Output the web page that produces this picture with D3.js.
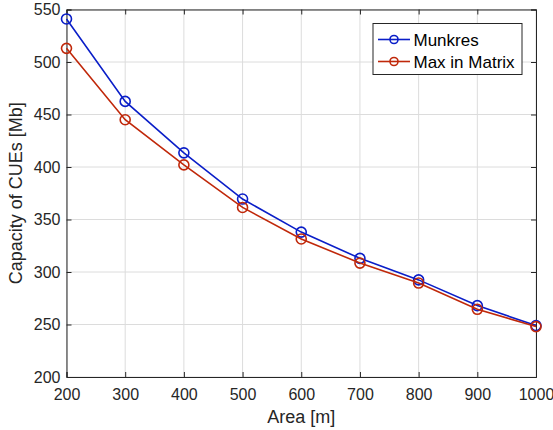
<!DOCTYPE html>
<html><head><meta charset="utf-8">
<script src="https://cdn.jsdelivr.net/npm/d3@7/dist/d3.min.js"></script>
<style>body{margin:0;background:#fff}svg{display:block}text{font-family:"Liberation Sans",Arial,sans-serif;fill:#262626}</style>
</head><body>
<script>
const areas = [200,300,400,500,600,700,800,900,1000];
const munkres = [541,462.5,413.5,369.5,338,313,292.5,268,249];
const maxInMatrix = [513,445,402,361.5,331.5,308.5,289.5,264.5,248];
const xTicks = [200,300,400,500,600,700,800,900,1000];
const yTicks = [200,250,300,350,400,450,500,550];
const seriesNames = ["Munkres","Max in Matrix"];
const colors = ["#0a1ec8","#c0280a"];

const W=553,H=430, L=66.5, R=536, T=9.5, B=377;
const svg=d3.select("body").append("svg").attr("width",W).attr("height",H);
const x=d3.scaleLinear().domain([200,1000]).range([L,R]);
const y=d3.scaleLinear().domain([200,550]).range([B,T]);

// grid
const g=svg.append("g");
g.selectAll(".gx").data(xTicks).enter().append("line").attr("x1",d=>x(d)).attr("x2",d=>x(d)).attr("y1",T).attr("y2",B).attr("stroke","#dcdcdc").attr("stroke-width",1);
g.selectAll(".gy").data(yTicks).enter().append("line").attr("y1",d=>y(d)).attr("y2",d=>y(d)).attr("x1",L).attr("x2",R).attr("stroke","#dcdcdc").attr("stroke-width",1);

// axes
const ax=svg.append("g").attr("transform",`translate(0,${B})`).call(d3.axisBottom(x).tickValues(xTicks).tickSize(-5).tickPadding(12).tickFormat(d3.format("d")));
const ay=svg.append("g").attr("transform",`translate(${L},0)`).call(d3.axisLeft(y).tickValues(yTicks).tickSize(-5).tickPadding(6).tickFormat(d3.format("d")));
[ax,ay].forEach(a=>{a.select(".domain").attr("stroke","#262626");a.selectAll(".tick line").attr("stroke","#262626");a.selectAll("text").style("font-size","16px").attr("fill","#262626");});
svg.append("g").attr("transform",`translate(0,${T})`).call(d3.axisTop(x).tickValues(xTicks).tickSize(-5).tickFormat("")).call(a=>{a.select(".domain").attr("stroke","#262626");a.selectAll("line").attr("stroke","#262626");});
svg.append("g").attr("transform",`translate(${R},0)`).call(d3.axisRight(y).tickValues(yTicks).tickSize(-5).tickFormat("")).call(a=>{a.select(".domain").attr("stroke","#262626");a.selectAll("line").attr("stroke","#262626");});

// labels
svg.append("text").attr("x",(L+R)/2).attr("y",423).attr("text-anchor","middle").style("font-size","18px").text("Area [m]");
svg.append("text").attr("transform",`translate(22,${(T+B)/2}) rotate(-90)`).attr("text-anchor","middle").style("font-size","18px").text("Capacity of CUEs [Mb]");

// series
const data=[munkres,maxInMatrix];
const line=d3.line().x((d,i)=>x(areas[i])).y(d=>y(d));
data.forEach((s,k)=>{
  svg.append("path").datum(s).attr("d",line).attr("fill","none").attr("stroke",colors[k]).attr("stroke-width",1.6);
  svg.selectAll(".m"+k).data(s).enter().append("circle").attr("cx",(d,i)=>x(areas[i])).attr("cy",d=>y(d)).attr("r",5).attr("fill","none").attr("stroke",colors[k]).attr("stroke-width",1.6);
});

// legend
const lg=svg.append("g");
lg.append("rect").attr("x",373).attr("y",23.5).attr("width",149).attr("height",51).attr("fill","#fff").attr("stroke","#262626").attr("stroke-width",1);
seriesNames.forEach((n,k)=>{
  const yy=39.5+k*22;
  lg.append("line").attr("x1",378).attr("x2",410).attr("y1",yy).attr("y2",yy).attr("stroke",colors[k]).attr("stroke-width",1.6);
  lg.append("circle").attr("cx",394).attr("cy",yy).attr("r",4).attr("fill","none").attr("stroke",colors[k]).attr("stroke-width",1.6);
  lg.append("text").attr("x",413.5).attr("y",yy+6).style("font-size","17px").style("fill","#000").text(n);
});
</script>
</body></html>
